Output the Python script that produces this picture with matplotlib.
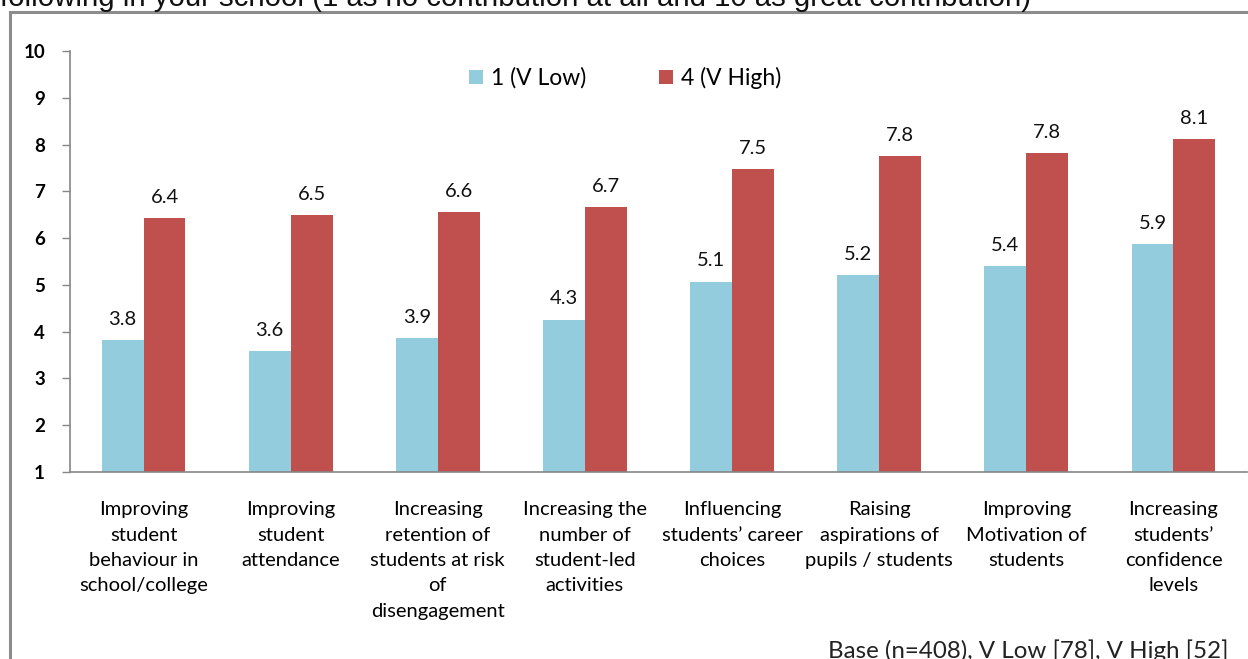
import numpy as np
import matplotlib
matplotlib.use("Agg")
import matplotlib.pyplot as plt
from matplotlib.patches import Rectangle

categories = [
    "Improving\nstudent\nbehaviour in\nschool/college",
    "Improving\nstudent\nattendance",
    "Increasing\nretention of\nstudents at risk\nof\ndisengagement",
    "Increasing the\nnumber of\nstudent-led\nactivities",
    "Influencing\nstudents\u2019 career\nchoices",
    "Raising\naspirations of\npupils / students",
    "Improving\nMotivation of\nstudents",
    "Increasing\nstudents\u2019\nconfidence\nlevels",
]
v_low = [3.82, 3.59, 3.86, 4.26, 5.07, 5.21, 5.40, 5.87]
v_high = [6.43, 6.49, 6.56, 6.66, 7.47, 7.76, 7.82, 8.12]
series_names = ["1 (V Low)", "4 (V High)"]
yticks = list(range(1, 11))

W, H = 1248, 659
fig = plt.figure(figsize=(W / 100, H / 100), dpi=100)
plt.rcParams['font.family'] = ['Lato', 'DejaVu Sans']

# outer frame (cut by image edges)
fig.patches.append(Rectangle((10 / W, -0.1), 1.2, (H - 11.5) / H + 0.1,
                             transform=fig.transFigure, fill=False,
                             edgecolor="#8c8c8c", linewidth=2.2))

# cut-off question text at top
fig.text(0.0, 1 - 6 / H, "following in your school (1 as no contribution at all and 10 as great contribution)",
         family="Liberation Sans", fontsize=21.2, va="baseline", ha="left", color="#111111")

ax = fig.add_axes([70 / W, 1 - 472 / H, 1177 / W, (472 - 51) / H])
x = np.arange(len(categories))
bw = 0.285
blue = "#93CDDD"
red = "#C0504D"
b1 = ax.bar(x - bw / 2, v_low, bw, bottom=0, color=blue, label=series_names[0])
b2 = ax.bar(x + bw / 2, v_high, bw, bottom=0, color=red, label=series_names[1])

for bars, vals in ((b1, v_low), (b2, v_high)):
    for rect, v in zip(bars, vals):
        ax.annotate(f"{v:.1f}", (rect.get_x() + rect.get_width() / 2, v),
                    xytext=(0, 11), textcoords="offset points",
                    ha="center", va="baseline", fontsize=14.5, color="#111111")

ax.set_xlim(-0.5, 7.5)
ax.set_ylim(1, 10)
ax.set_yticks(yticks)
ax.set_yticklabels([str(t) for t in yticks], fontweight="bold", fontsize=13.5)
ax.set_xticks(x)
ax.set_xticklabels(categories, fontsize=14.5, linespacing=1.6, va="top")
ax.tick_params(axis="x", length=0, pad=21)
ax.tick_params(axis="y", length=6, width=1, color="#868686", pad=12)
for s in ("top", "right"):
    ax.spines[s].set_visible(False)
for s in ("left", "bottom"):
    ax.spines[s].set_color("#868686")
    ax.spines[s].set_linewidth(1.2)

leg = ax.legend(loc="center", bbox_to_anchor=((625 - 70) / 1177, (472 - 78) / (472 - 51)),
                ncol=2, frameon=False, fontsize=16.5, handlelength=0.6, handleheight=0.6,
                handletextpad=0.35, columnspacing=3.2)

fig.text(1228 / W, 1 - 651 / H, "Base (n=408), V Low [78], V High [52]",
         ha="right", va="center", fontsize=17.4, color="#222222")

fig.savefig("out.png", dpi=100)
